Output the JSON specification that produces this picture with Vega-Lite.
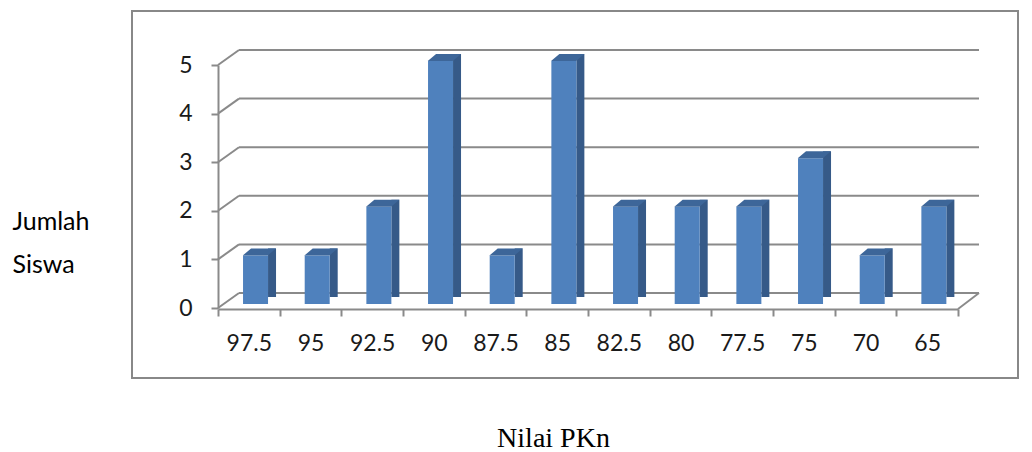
{
  "$schema": "https://vega.github.io/schema/vega-lite/v6.json",
  "width": 886,
  "height": 367,
  "autosize": {"type": "none"},
  "padding": {"left": 132, "top": 11, "right": 14, "bottom": 74},
  "background": "white",
  "config": {
    "view": {"stroke": "#888888", "strokeWidth": 2},
    "font": "Lato",
    "axisX": {
      "offset": -69, "labelAngle": 0, "tickBand": "extent", "tickSize": 7, "tickColor": "#8a8a8a", "tickWidth": 2,
      "domainColor": "#8a8a8a", "domainWidth": 2, "grid": false,
      "labelFont": "Lato", "labelFontSize": 23, "labelColor": "#1a1a1a", "labelPadding": 16,
      "titleFont": "Liberation Serif", "titleFontSize": 28, "titleFontWeight": "normal", "titleColor": "#000000",
      "titleX": 421, "titleY": 137, "titleAlign": "center", "titleBaseline": "alphabetic", "titleAngle": 0
    },
    "axisY": {
      "offset": -86, "tickCount": 5, "format": "d", "tickSize": 7, "tickColor": "#8a8a8a", "tickWidth": 2,
      "domainColor": "#8a8a8a", "domainWidth": 2, "grid": false,
      "labelFont": "Lato", "labelFontSize": 23, "labelColor": "#1a1a1a", "labelPadding": 19,
      "titleFont": "Lato", "titleFontSize": 25, "titleFontWeight": "normal", "titleColor": "#000000",
      "titleAngle": 0, "titleAlign": "left", "titleBaseline": "alphabetic", "titleX": -206, "titleY": 218, "titleLineHeight": 43
    }
  },
  "datasets": {
    "bars": [
      {"nilai": "97.5", "jumlah": 1},
      {"nilai": "95", "jumlah": 1},
      {"nilai": "92.5", "jumlah": 2},
      {"nilai": "90", "jumlah": 5},
      {"nilai": "87.5", "jumlah": 1},
      {"nilai": "85", "jumlah": 5},
      {"nilai": "82.5", "jumlah": 2},
      {"nilai": "80", "jumlah": 2},
      {"nilai": "77.5", "jumlah": 2},
      {"nilai": "75", "jumlah": 3},
      {"nilai": "70", "jumlah": 1},
      {"nilai": "65", "jumlah": 2}
    ],
    "grid": [{"v": 0}, {"v": 1}, {"v": 2}, {"v": 3}, {"v": 4}, {"v": 5}]
  },
  "layer": [
    {
      "data": {"name": "grid"},
      "mark": {"type": "rule", "color": "#8a8a8a", "strokeWidth": 2, "xOffset": 21, "x2Offset": 21, "yOffset": -15},
      "encoding": {
        "x": {"datum": "97.5", "type": "nominal", "bandPosition": 0, "title": "Nilai PKn",
              "scale": {"type": "band", "domain": ["97.5","95","92.5","90","87.5","85","82.5","80","77.5","75","70","65"], "range": [86, 826], "paddingInner": 0, "paddingOuter": 0}},
        "x2": {"datum": "65", "bandPosition": 1},
        "y": {"field": "v", "type": "quantitative", "title": ["Jumlah", "Siswa"], "scale": {"domain": [0, 5], "range": [297, 54], "nice": false}}
      }
    },
    {
      "data": {"name": "grid"},
      "mark": {"type": "rule", "color": "#8a8a8a", "strokeWidth": 2, "x2Offset": 21, "y2Offset": -15},
      "encoding": {
        "x": {"datum": "97.5", "type": "nominal", "bandPosition": 0, "title": "Nilai PKn",
              "scale": {"type": "band", "domain": ["97.5","95","92.5","90","87.5","85","82.5","80","77.5","75","70","65"], "range": [86, 826], "paddingInner": 0, "paddingOuter": 0}},
        "x2": {"datum": "97.5", "bandPosition": 0},
        "y": {"field": "v", "type": "quantitative", "title": ["Jumlah", "Siswa"], "scale": {"domain": [0, 5], "range": [297, 54], "nice": false}},
        "y2": {"field": "v"}
      }
    },
    {
      "data": {"name": "grid"},
      "transform": [{"filter": "datum.v == 0"}],
      "mark": {"type": "rule", "color": "#8a8a8a", "strokeWidth": 2, "yOffset": 1, "x2Offset": 21, "y2Offset": -15},
      "encoding": {
        "x": {"datum": "65", "type": "nominal", "bandPosition": 1, "title": "Nilai PKn",
              "scale": {"type": "band", "domain": ["97.5","95","92.5","90","87.5","85","82.5","80","77.5","75","70","65"], "range": [86, 826], "paddingInner": 0, "paddingOuter": 0}},
        "x2": {"datum": "65", "bandPosition": 1},
        "y": {"field": "v", "type": "quantitative", "title": ["Jumlah", "Siswa"], "scale": {"domain": [0, 5], "range": [297, 54], "nice": false}},
        "y2": {"field": "v"}
      }
    },
    {
      "data": {"name": "bars"},
      "mark": {"type": "bar", "color": "#365a88", "size": 8, "xOffset": 23.2, "yOffset": -11, "y2Offset": -3},
      "encoding": {
        "x": {"field": "nilai", "type": "nominal", "sort": null, "title": "Nilai PKn",
              "scale": {"type": "band", "domain": ["97.5","95","92.5","90","87.5","85","82.5","80","77.5","75","70","65"], "range": [86, 826], "paddingInner": 0, "paddingOuter": 0}},
        "y": {"field": "jumlah", "type": "quantitative", "title": ["Jumlah", "Siswa"], "scale": {"domain": [0, 5], "range": [297, 54], "nice": false}}
      }
    },
    {
      "data": {"name": "bars"},
      "mark": {"type": "point", "filled": true, "opacity": 1, "size": 4, "color": "#ffffff", "strokeWidth": 0,
               "shape": "M18.9,-3L27.2,-3L27.2,-10.5Z"},
      "encoding": {
        "x": {"field": "nilai", "type": "nominal", "sort": null, "title": "Nilai PKn",
              "scale": {"type": "band", "domain": ["97.5","95","92.5","90","87.5","85","82.5","80","77.5","75","70","65"], "range": [86, 826], "paddingInner": 0, "paddingOuter": 0}},
        "y": {"datum": 0, "type": "quantitative", "title": ["Jumlah", "Siswa"], "scale": {"domain": [0, 5], "range": [297, 54], "nice": false}}
      }
    },
    {
      "data": {"name": "bars"},
      "mark": {"type": "bar", "color": "#4f81bd", "size": 25, "xOffset": 6.7, "yOffset": -4, "y2Offset": -3},
      "encoding": {
        "x": {"field": "nilai", "type": "nominal", "sort": null, "title": "Nilai PKn",
              "scale": {"type": "band", "domain": ["97.5","95","92.5","90","87.5","85","82.5","80","77.5","75","70","65"], "range": [86, 826], "paddingInner": 0, "paddingOuter": 0}},
        "y": {"field": "jumlah", "type": "quantitative", "title": ["Jumlah", "Siswa"], "scale": {"domain": [0, 5], "range": [297, 54], "nice": false}}
      }
    },
    {
      "data": {"name": "bars"},
      "mark": {"type": "point", "filled": true, "opacity": 1, "size": 4, "color": "#3d6699", "strokeWidth": 0,
               "shape": "M-6.1,-4L18.9,-4L27.2,-11L2.2,-11Z"},
      "encoding": {
        "x": {"field": "nilai", "type": "nominal", "sort": null, "title": "Nilai PKn",
              "scale": {"type": "band", "domain": ["97.5","95","92.5","90","87.5","85","82.5","80","77.5","75","70","65"], "range": [86, 826], "paddingInner": 0, "paddingOuter": 0}},
        "y": {"field": "jumlah", "type": "quantitative", "title": ["Jumlah", "Siswa"], "scale": {"domain": [0, 5], "range": [297, 54], "nice": false}}
      }
    }
  ]
}
